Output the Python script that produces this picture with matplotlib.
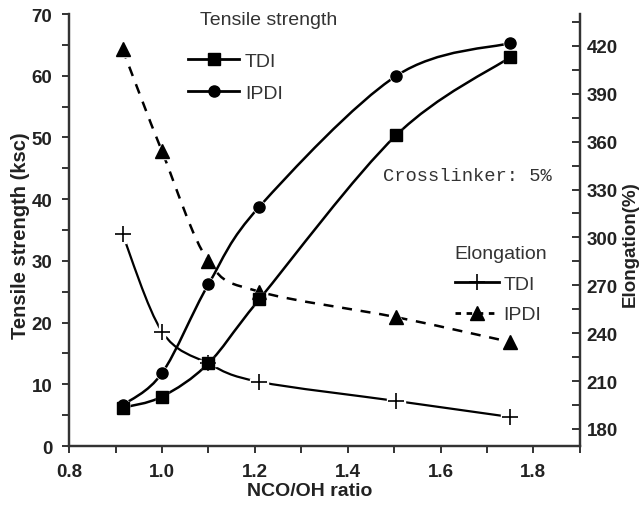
import matplotlib
matplotlib.use('Agg')
import matplotlib.pyplot as plt
from matplotlib.path import Path
from matplotlib.patches import PathPatch
from matplotlib.lines import Line2D
import numpy as np

# data
ratio = [0.915, 1.0, 1.1, 1.21, 1.505, 1.75]
ts_tdi = [6.2, 8.0, 13.4, 23.8, 50.4, 63.0]
ts_ipdi = [6.6, 11.8, 26.2, 38.8, 60.0, 65.3]
el_tdi = [302, 241, 221, 209.5, 197.5, 187.5]
el_ipdi = [418, 354, 285, 266, 250, 234.5]

font = 'Liberation Sans'
grey = '#333333'


def smooth(ax, x, y, **kw):
    # catmull-rom through the points, drawn as bezier path
    p = np.column_stack([x, y])
    verts = [p[0]]
    codes = [Path.MOVETO]
    n = len(p)
    for i in range(n - 1):
        p0 = p[i - 1] if i > 0 else p[i]
        p3 = p[i + 2] if i + 2 < n else p[i + 1]
        c1 = p[i] + (p[i + 1] - p0) / 6
        c2 = p[i + 1] - (p3 - p[i]) / 6
        verts += [c1, c2, p[i + 1]]
        codes += [Path.CURVE4] * 3
    ax.add_patch(PathPatch(Path(verts, codes), fill=False, **kw))


fig = plt.figure(figsize=(6.4, 5.06), dpi=100)
ax = fig.add_axes([0.108, 0.1166, 0.798, 0.8537])
ax2 = ax.twinx()
# tensile axes on top so its squares hide the + at 1.1
ax.set_zorder(ax2.get_zorder() + 1)
ax.patch.set_visible(False)

ax.set_xlim(0.8, 1.9)
ax.set_ylim(0, 70)
ax2.set_ylim(169.3, 440)

for a in (ax, ax2):
    a.spines['top'].set_visible(False)
    for s in a.spines.values():
        s.set_linewidth(1.6)
        s.set_color(grey)

# white halo under markers to break the lines
for x, y, m, a, sz in [(ratio, ts_tdi, 's', ax, 9), (ratio, ts_ipdi, 'o', ax, 9),
                       (ratio, el_tdi, 'P', ax2, 13), (ratio, el_ipdi, '^', ax2, 12)]:
    a.plot(x, y, ls='none', marker=m, ms=sz, mfc='white', mec='white', zorder=3)

smooth(ax, ratio, ts_tdi, lw=1.8, color='black', zorder=2)
smooth(ax, ratio, ts_ipdi, lw=1.8, color='black', zorder=2)
smooth(ax2, ratio, el_tdi, lw=1.6, color='black', zorder=2)
smooth(ax2, ratio, el_ipdi, lw=1.8, color='black', ls=(0, (4, 3.5)), zorder=2)

ax.plot(ratio, ts_tdi, ls='none', marker='s', ms=8, color='black', zorder=4)
ax.plot(ratio, ts_ipdi, ls='none', marker='o', ms=8, color='black', zorder=4)
ax2.plot(ratio, el_tdi, ls='none', marker='+', ms=11, mew=1.2, color='black', zorder=4)
ax2.plot(ratio, el_ipdi, ls='none', marker='^', ms=10, color='black', zorder=4)

ax.set_xticks([0.8, 1.0, 1.2, 1.4, 1.6, 1.8])
ax.set_xticks(np.arange(0.9, 1.95, 0.2), minor=True)
ax.set_yticks(range(0, 71, 10))
ax.set_yticks(range(5, 70, 10), minor=True)
ax2.set_yticks(range(180, 421, 30))
ax2.set_yticks(range(195, 436, 30), minor=True)

ax.tick_params(axis='both', which='both', direction='out', length=5, width=1.4, color=grey)
ax2.tick_params(axis='y', which='both', direction='in', length=6, width=1.4, color=grey)
ax.tick_params(axis='y', pad=7)
ax.tick_params(axis='x', pad=7)
ax2.tick_params(axis='y', pad=5)

ax.set_xticklabels(['0.8', '1.0', '1.2', '1.4', '1.6', '1.8'])
for lab in ax.get_xticklabels() + ax.get_yticklabels() + ax2.get_yticklabels():
    lab.set_family(font)
    lab.set_fontweight('bold')
    lab.set_fontsize(13.5)
    lab.set_color('#222222')

ax.set_xlabel('NCO/OH ratio', family=font, fontweight='bold', fontsize=14, color='#222222')
ax.xaxis.set_label_coords(0.472, -0.083)
ax.set_ylabel('Tensile strength (ksc)', family=font, fontweight='bold', fontsize=14.5,
              color='#222222')
ax.yaxis.set_label_coords(-0.076, 0.49)
ax2.set_ylabel('Elongation(%)', family=font, fontweight='bold', fontsize=13.5,
               color='#222222')
ax2.yaxis.set_label_coords(1.082, 0.47)

# legends, titles as plain text
ax.text(0.8 + (200 - 69) / 465, 70 - (20 - 15) / 6.17, 'Tensile strength', family=font,
        fontsize=14, color=grey, va='center')
h1 = [Line2D([], [], color='black', lw=2, marker='s', ms=8),
      Line2D([], [], color='black', lw=2, marker='o', ms=8)]
leg1 = ax.legend(h1, ['TDI', 'IPDI'], loc='upper left',
                 bbox_to_anchor=(0.207, 0.943), frameon=False, handlelength=2.6,
                 handletextpad=0.3, labelspacing=0.75, borderpad=0.2,
                 prop={'family': font, 'size': 14})
for t in leg1.get_texts():
    t.set_color(grey)
ax.add_artist(leg1)

ax.text(0.8 + (455 - 69) / 465, (447 - 255) / 6.17, 'Elongation', family=font,
        fontsize=14, color=grey, va='center')
h2 = [Line2D([], [], color='black', lw=2, marker='+', ms=11, mew=1.2),
      Line2D([], [], color='black', lw=2, ls=(0, (2, 2)), marker='^', ms=10)]
leg2 = ax.legend(h2, ['TDI', 'IPDI'], loc='upper left',
                 bbox_to_anchor=(0.728, 0.426), frameon=False, handlelength=2.3,
                 handletextpad=0.2, labelspacing=0.65, borderpad=0.2,
                 prop={'family': font, 'size': 14})
for t in leg2.get_texts():
    t.set_color(grey)

ax.text(0.8 + (383 - 69) / 465, (447 - 177) / 6.17, 'Crosslinker: 5%',
        family='Liberation Mono', fontsize=13.5, color=grey, va='center')

fig.savefig('out.png', dpi=100)
